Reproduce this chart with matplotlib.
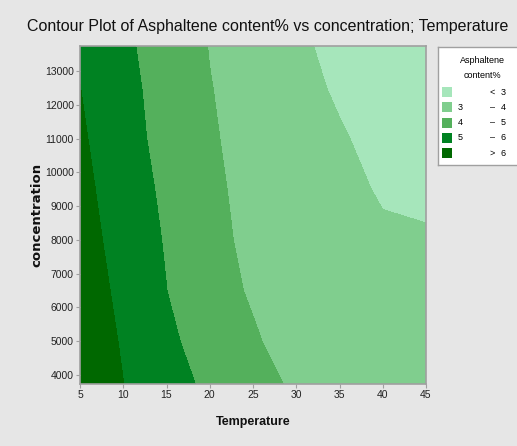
import matplotlib.pyplot as plt
from matplotlib.patches import Rectangle

temperature = [5, 10, 15, 20, 25, 30, 35, 40, 45]
concentration = [3734, 5000, 6500, 8000, 9500, 11000, 12500, 13740]
# Asphaltene content%, rows follow concentration
asphaltene = [
    [6.65, 6.01, 5.38, 4.81, 4.12, 3.95, 3.82, 3.68, 3.55],
    [6.65, 5.91, 5.18, 4.61, 4.04, 3.85, 3.68, 3.55, 3.42],
    [6.53, 5.77, 5.01, 4.14, 3.96, 3.76, 3.56, 3.38, 3.26],
    [6.39, 5.64, 4.92, 4.12, 3.90, 3.69, 3.48, 3.12, 3.10],
    [6.27, 5.51, 4.81, 4.23, 3.66, 3.45, 3.22, 2.92, 2.80],
    [6.14, 5.38, 4.68, 4.08, 3.74, 3.41, 3.08, 2.75, 2.50],
    [6.01, 5.28, 4.63, 4.03, 3.64, 3.26, 2.89, 2.51, 2.20],
    [5.88, 5.18, 4.56, 3.97, 3.56, 3.16, 2.76, 2.35, 2.00],
]
levels = [0, 3, 4, 5, 6, 10]
level_colors = ['#a6e6bb', '#80ce8e', '#54b05c', '#008222', '#006800']
legend_rows = [('', '<', '3'), ('3', '–', '4'), ('4', '–', '5'),
               ('5', '–', '6'), ('', '>', '6')]

plt.rcParams['font.family'] = ['Liberation Sans', 'DejaVu Sans']
bg = '#e6e6e6'
edge = '#a0a0a0'

fig = plt.figure(figsize=(5.17, 4.46), dpi=100, facecolor=bg)
ax = fig.add_axes([80 / 517, 1 - 384 / 446, 346 / 517, 338 / 446])
ax.contourf(temperature, concentration, asphaltene, levels=levels, colors=level_colors)
ax.set_xlim(5, 45)
ax.set_ylim(3734, 13740)
ax.set_xticks(range(5, 46, 5))
ax.set_yticks(range(4000, 13001, 1000))
ax.tick_params(labelsize=7.5, length=3, width=0.8, color=edge, pad=1.5, labelcolor='#222222')
for s in ax.spines.values():
    s.set_color(edge)
    s.set_linewidth(1.2)

fig.text(27 / 517, 1 - 27 / 446, 'Contour Plot of Asphaltene content% vs concentration; Temperature',
         fontsize=11.5, va='center', ha='left', color='#111111')
fig.text(253 / 517, 1 - 422 / 446, 'Temperature', fontsize=9, fontweight='bold',
         ha='center', va='center', color='#111111')
fig.text(37 / 517, 1 - 215 / 446, 'concentration', fontsize=9.5, fontweight='bold',
         family='DejaVu Sans', rotation=90, ha='center', va='center', color='#111111')

# legend box, drawn in picture pixels
lg = fig.add_axes([438 / 517, 1 - 165 / 446, 100 / 517, 118 / 446])
lg.set_xlim(438, 538)
lg.set_ylim(165, 47)
lg.set_xticks([])
lg.set_yticks([])
for s in lg.spines.values():
    s.set_color(edge)
    s.set_linewidth(1.0)
lg.text(482, 60, 'Asphaltene', fontsize=6.5, ha='center', va='center')
lg.text(482, 75, 'content%', fontsize=6.5, ha='center', va='center')
for i, (lo, sep, hi) in enumerate(legend_rows):
    yc = 92 + i * 15.3
    lg.add_patch(Rectangle((442, yc - 5), 10, 10, facecolor=level_colors[i], edgecolor='none'))
    lg.text(458, yc, lo, fontsize=6.5, ha='left', va='center')
    lg.text(492, yc, sep, fontsize=6.5, ha='center', va='center')
    lg.text(503, yc, hi, fontsize=6.5, ha='center', va='center')

fig.savefig('out.png', dpi=100, facecolor=bg)
